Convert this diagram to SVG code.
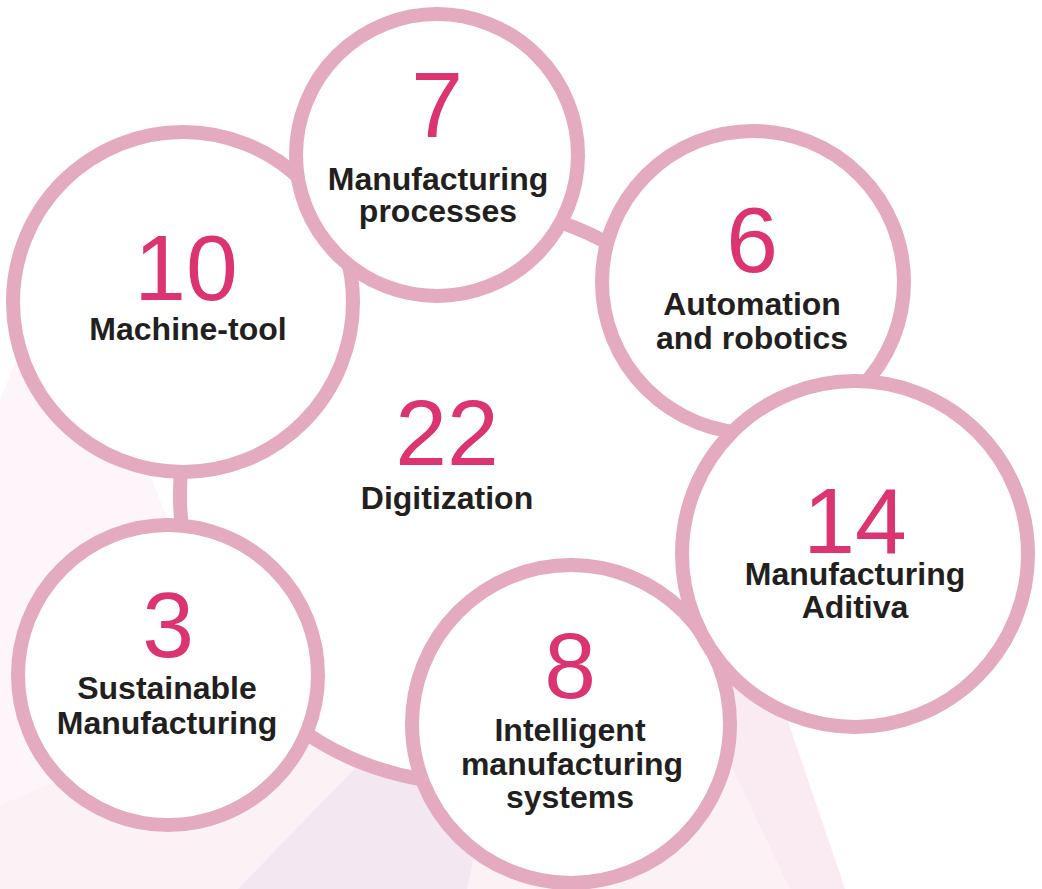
<svg xmlns="http://www.w3.org/2000/svg" width="1042" height="889" viewBox="0 0 1042 889">
  <style>
    .ring { fill: #ffffff; stroke: #e4aac0; stroke-width: 14; }
    .num { font-family: "Liberation Sans", Arial, sans-serif; font-size: 93px; font-weight: normal; fill: #dc3371; text-anchor: middle; }
    .lbl { font-family: "Liberation Sans", Arial, sans-serif; font-size: 32px; font-weight: bold; fill: #231f20; text-anchor: middle; }
  </style>
  <g id="background">
    <rect x="0" y="0" width="1042" height="889" fill="#ffffff"/>
    <polygon points="0,400 60,250 200,600 140,745 0,805" fill="#fdf5f9"/>
    <polygon points="0,805 140,745 740,580 845,889 0,889" fill="#fcf1f5"/>
    <polygon points="700,700 760,640 845,889 790,889" fill="#f9ebf1"/>
    <polygon points="365,758 238,889 467,889 500,730" fill="#f3e8f1"/>
  </g>
  <g id="connectors">
    <circle cx="468" cy="495" r="288" class="ring"/>
  </g>
  <g id="node-digitization">
    <text x="447" y="465" class="num">22</text>
    <text x="447" y="509" class="lbl">Digitization</text>
  </g>
  <g id="node-machine-tool">
    <circle cx="183" cy="302" r="170" class="ring"/>
    <text x="186" y="300" class="num">10</text>
    <text x="188" y="340" class="lbl">Machine-tool</text>
  </g>
  <g id="node-sustainable">
    <circle cx="168" cy="675" r="150" class="ring"/>
    <text x="168" y="657" class="num">3</text>
    <text x="167" y="699" class="lbl">Sustainable</text>
    <text x="167" y="734" class="lbl">Manufacturing</text>
  </g>
  <g id="node-automation">
    <circle cx="753" cy="282" r="151" class="ring"/>
    <text x="752" y="272" class="num">6</text>
    <text x="752" y="315" class="lbl">Automation</text>
    <text x="752" y="349" class="lbl">and robotics</text>
  </g>
  <g id="node-intelligent">
    <circle cx="571" cy="724" r="159" class="ring"/>
    <text x="570" y="698" class="num">8</text>
    <text x="570" y="741" class="lbl">Intelligent</text>
    <text x="572" y="775" class="lbl">manufacturing</text>
    <text x="570" y="808" class="lbl">systems</text>
  </g>
  <g id="node-processes">
    <circle cx="437" cy="155" r="141" class="ring"/>
    <text x="437" y="137" class="num">7</text>
    <text x="438" y="190" class="lbl">Manufacturing</text>
    <text x="438" y="222" class="lbl">processes</text>
  </g>
  <g id="node-additive">
    <circle cx="855" cy="554" r="173" class="ring"/>
    <text x="855" y="553" class="num">14</text>
    <text x="855" y="585" class="lbl">Manufacturing</text>
    <text x="855" y="618" class="lbl">Aditiva</text>
  </g>
</svg>
